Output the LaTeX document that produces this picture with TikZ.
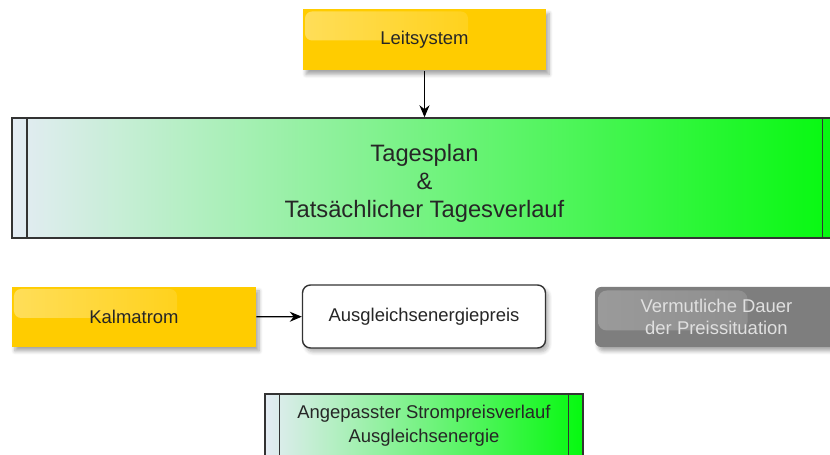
\documentclass[tikz,border=0pt]{standalone}
\usepackage{fontspec}
\setmainfont{Liberation Sans}
\usepackage{tikz}
\usetikzlibrary{arrows.meta,positioning,shadows.blur,calc}
\usepackage{xcolor}
\definecolor{gold}{HTML}{FFCC00}
\definecolor{planleft}{HTML}{E4ECF4}
\definecolor{planright}{HTML}{05F90F}
\definecolor{boxgray}{HTML}{7E7E7E}

\begin{document}
\begin{tikzpicture}[
    ybox/.style={fill=gold, minimum width=4.86cm, minimum height=1.22cm, align=center, font=\fontsize{10.5}{13}\selectfont, text=black!85,
        blur shadow={shadow xshift=0.06cm, shadow yshift=-0.08cm, shadow blur steps=6, shadow opacity=35},
        path picture={\shade[left color=gold!65!white, right color=gold, rounded corners=4pt]
            ($(path picture bounding box.north west)+(0.04,-0.04)$) rectangle ($(path picture bounding box.north west)+(3.3,-0.62)$);}},
    wbox/.style={draw=black!80, fill=white, line width=0.8pt, rounded corners=0.16cm, minimum width=4.86cm, minimum height=1.26cm, align=center, font=\fontsize{10.5}{13}\selectfont, text=black!85,
        blur shadow={shadow xshift=0.06cm, shadow yshift=-0.08cm, shadow blur steps=6, shadow opacity=30}},
    gbox/.style={fill=boxgray, rounded corners=0.12cm, minimum width=4.86cm, minimum height=1.2cm, align=center, font=\fontsize{10.5}{12.5}\selectfont, text=black!12,
        blur shadow={shadow xshift=0.06cm, shadow yshift=-0.08cm, shadow blur steps=6, shadow opacity=35},
        path picture={\shade[left color=boxgray!78!white, right color=boxgray!92!white, rounded corners=5pt]
            ($(path picture bounding box.north west)+(0.06,-0.07)$) rectangle ($(path picture bounding box.north west)+(3.05,-0.87)$);}},
    plan/.style={draw=black!80, line width=0.8pt, left color=planleft, right color=planright},
    planline/.style={draw=black!80, line width=0.8pt},
    arrow/.style={-{Stealth[length=2.4mm,width=2mm]}, black, line width=0.7pt},
]
\path[use as bounding box, clip] (0,0) rectangle (16.6,9.1);

% Leitsystem oben
\node[ybox] (leit) at (8.49, 8.30) {Leitsystem};

% Tagesplan (Prozessbalken)
\node[plan, minimum width=16.5cm, minimum height=2.4cm] (plan) at (8.49, 5.54) {};
\draw[planline] ([xshift=0.31cm]plan.north west) -- ([xshift=0.31cm]plan.south west);
\draw[planline] ([xshift=-0.31cm]plan.north east) -- ([xshift=-0.31cm]plan.south east);
\node[align=center, text=black!85, font=\fontsize{13.5}{15.8}\selectfont] (plantext) at (8.49, 5.43) {Tagesplan\\\&\\Tatsächlicher Tagesverlauf};

\draw[arrow] (leit) -- (plan);

% mittlere Reihe
\node[ybox, minimum width=4.88cm, minimum height=1.2cm] (kalm) at (2.68, 2.76) {Kalmatrom};
\node[wbox] (preis) at (8.48, 2.77) {Ausgleichsenergiepreis};
\node[gbox] (dauer) at (14.33, 2.76) {Vermutliche Dauer\\der Preissituation};

\draw[arrow] (kalm) -- (preis);

% unten
\node[plan, minimum width=6.36cm, minimum height=1.28cm, align=center, text=black!85, font=\fontsize{10.5}{13.5}\selectfont] (verlauf) at (8.48, 0.58) {Angepasster Strompreisverlauf\\Ausgleichsenergie};
\draw[planline] ([xshift=0.3cm]verlauf.north west) -- ([xshift=0.3cm]verlauf.south west);
\draw[planline] ([xshift=-0.3cm]verlauf.north east) -- ([xshift=-0.3cm]verlauf.south east);
\end{tikzpicture}
\end{document}
